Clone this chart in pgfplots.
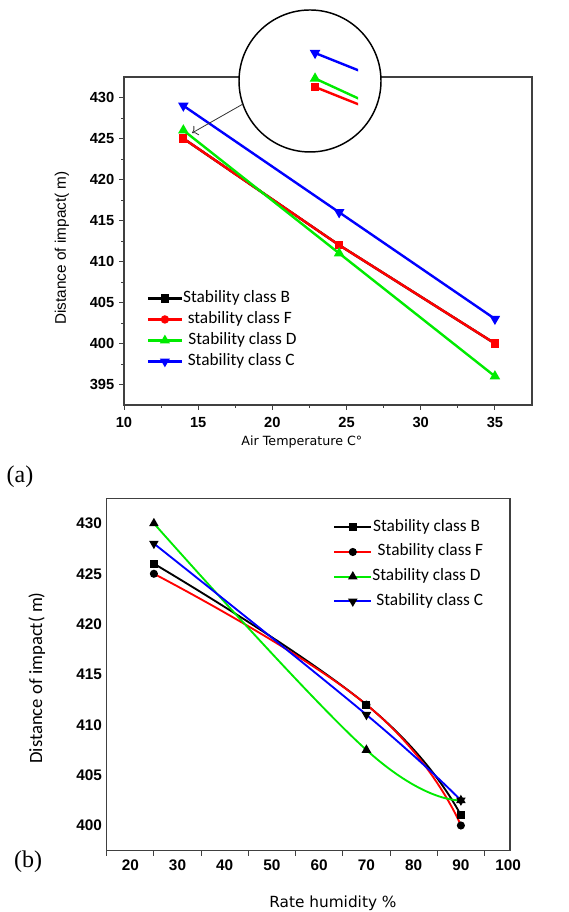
\documentclass[border=0pt]{standalone}
\usepackage{fontspec}
\setmainfont{Liberation Sans}
\newfontfamily\carlito{Carlito}
\newfontfamily\dejavu{DejaVu Sans}
\newfontfamily\tnr{Liberation Serif}
\usepackage{pgfplots}
\pgfplotsset{compat=1.18}
\usepackage{pgfplotstable}
\usetikzlibrary{arrows.meta}

\definecolor{cgreen}{RGB}{0,235,0}
\definecolor{cblue}{RGB}{0,0,255}
\definecolor{cred}{RGB}{255,0,0}

% air temperature (a)
\pgfplotstableread{
x    B   F   D   C
14   425 425 426 429
24.5 412 412 411 416
35   400 400 396 403
}\tempdata
% rate humidity (b)
\pgfplotstableread{
x  B   F   D     C
25 426 425 430   428
70 412 412 407.5 411
90 401 400 402.5 402.5
}\humdata

\pgfplotsset{
  linelegend/.style={legend image code/.code={
    \draw[mark repeat=2,mark phase=2,##1] plot coordinates {(0pt,0pt) (#1,0pt) (2*#1,0pt)};}},
}

\begin{document}
\begin{tikzpicture}
\path[use as bounding box] (0,0) rectangle (426pt,684pt);

% ---------- (a) ----------
\begin{axis}[
  scale only axis, width=306pt, height=246pt,
  at={(93pt,380.25pt)}, anchor=south west,
  xmin=10, xmax=37.5, ymin=392.5, ymax=432.5,
  xtick={10,15,...,35}, ytick={395,400,...,430},
  minor x tick num=1, minor y tick num=1,
  tick align=outside, tick pos=left,
  major tick length=3.75pt, minor tick length=2.25pt,
  axis line style={line width=0.9pt, black!75},
  tick style={black!75, line width=0.7pt},
  ticklabel style={font=\bfseries\fontsize{11}{12}\selectfont},
  xticklabel style={yshift=-2pt},
  /pgf/number format/assume math mode=true,
  xlabel={Air Temperature C°},
  xlabel style={font=\dejavu\fontsize{9.5}{11}\selectfont, at={(axis description cs:0.436,-0.113)}, anchor=center},
  ylabel={Distance of impact( m)},
  ylabel style={font=\fontsize{11.5}{13}\selectfont, at={(axis description cs:-0.152,0.479)}, anchor=center},
  linelegend=12.75pt,
  legend style={at={(axis description cs:0.055,0.35)}, anchor=north west, draw=none, fill=none,
    font=\carlito\fontsize{13}{15}\selectfont, inner sep=0pt, row sep=3.75pt,
    nodes={inner sep=0pt, text height=9pt, text depth=3pt},
    /tikz/every even column/.append style={column sep=7pt}},
  legend cell align=left,
]
\addlegendimage{black, line width=1.8pt, mark=square*, mark size=2.2pt}
\addlegendentry{Stability class B}
\addlegendimage{cred, line width=1.8pt, mark=*, mark size=2.2pt}
\addlegendentry{\hspace{3.5pt}stability class F}
\addlegendimage{cgreen, line width=1.8pt, mark=triangle*, mark size=2.6pt}
\addlegendentry{\hspace{4pt}Stability class D}
\addlegendimage{cblue, line width=1.8pt, mark=triangle*, mark size=2.6pt, mark options={rotate=180}}
\addlegendentry{\hspace{3.5pt}Stability class C}

\addplot[forget plot, black, line width=1.8pt, mark=square*, mark size=2.2pt] table[x=x,y=B]{\tempdata};
\addplot[forget plot, cred, line width=1.8pt, mark=square*, mark size=2.2pt] table[x=x,y=F]{\tempdata};
\addplot[forget plot, cgreen, line width=1.8pt, mark=triangle*, mark size=2.8pt] table[x=x,y=D]{\tempdata};
\addplot[forget plot, cblue, line width=1.8pt, mark=triangle*, mark size=2.8pt, mark options={rotate=180}] table[x=x,y=C]{\tempdata};
\end{axis}

% zoom inset
\draw[line width=1.1pt, fill=white] (232.5pt,623.25pt) circle (53.25pt);
\begin{axis}[
  scale only axis, width=34.2pt, height=47.8pt,
  at={(234.3pt,602.8pt)}, anchor=south west, hide axis,
  xmin=13.9, xmax=15.63, ymin=422.5, ymax=430,
]
\addplot[cred, line width=1.8pt, mark=square*, mark size=2.2pt] table[x=x,y=F]{\tempdata};
\addplot[cgreen, line width=1.8pt, mark=triangle*, mark size=2.8pt] table[x=x,y=D]{\tempdata};
\addplot[cblue, line width=1.8pt, mark=triangle*, mark size=2.8pt, mark options={rotate=180}] table[x=x,y=C]{\tempdata};
\end{axis}
\draw[-{To[length=4pt,width=8pt]}, black!80, line width=0.6pt] (182.25pt,606pt) -- (144pt,584.25pt);

\node[font=\tnr\fontsize{18}{20}\selectfont] at (15pt,326.25pt) {(a)};

% ---------- (b) ----------
\begin{axis}[
  scale only axis, width=302.5pt, height=264.3pt,
  at={(80pt,46pt)}, anchor=south west,
  xmin=15, xmax=100.4, ymin=397.5, ymax=432.5,
  xtick={20,30,...,100}, minor xtick={15,25,...,95},
  ytick={400,405,...,430},
  tick align=outside, tick pos=left,
  major tick length=0pt, minor tick length=3.75pt,
  axis line style={line width=0.9pt, black!75},
  tick style={black!75, line width=0.7pt},
  ticklabel style={font=\bfseries\fontsize{11.5}{13}\selectfont},
  xticklabel style={yshift=-3pt},
  /pgf/number format/assume math mode=true,
  xlabel={Rate humidity \%},
  xlabel style={font=\dejavu\fontsize{11.5}{13}\selectfont, at={(axis description cs:0.561,-0.148)}, anchor=center},
  ylabel={Distance of impact( m)},
  ylabel style={font=\carlito\fontsize{14}{16}\selectfont, at={(axis description cs:-0.173,0.49)}, anchor=center},
  linelegend=13.9pt,
  legend style={at={(axis description cs:0.561,0.941)}, anchor=north west, draw=none, fill=none,
    font=\carlito\fontsize{13}{15}\selectfont, inner sep=0pt, row sep=6.5pt,
    nodes={inner sep=0pt, text height=9pt, text depth=3pt},
    /tikz/every even column/.append style={column sep=3.75pt}},
  legend cell align=left,
]
\addlegendimage{black, line width=1.6pt, mark=square*, mark size=2.2pt, mark options={black}}
\addlegendentry{\hspace{0.5pt}Stability class B}
\addlegendimage{cred, line width=1.6pt, mark=*, mark size=2.2pt, mark options={black}}
\addlegendentry{\hspace{4pt}Stability class F}
\addlegendimage{cgreen, line width=1.6pt, mark=triangle*, mark size=2.6pt, mark options={black}}
\addlegendentry{Stability class D}
\addlegendimage{cblue, line width=1.6pt, mark=triangle*, mark size=2.6pt, mark options={black, rotate=180}}
\addlegendentry{\hspace{3pt}Stability class C}

\addplot[forget plot, black, line width=1.4pt, smooth, tension=0.8, mark=square*, mark size=2.3pt, mark options={black}] table[x=x,y=B]{\humdata};
\addplot[forget plot, cred, line width=1.4pt, smooth, tension=0.8, mark=*, mark size=2.3pt, mark options={black}] table[x=x,y=F]{\humdata};
\addplot[forget plot, cgreen, line width=1.4pt, smooth, tension=0.7, mark=triangle*, mark size=2.8pt, mark options={black}] table[x=x,y=D]{\humdata};
\addplot[forget plot, cblue, line width=1.4pt, smooth, tension=0.7, mark=triangle*, mark size=2.8pt, mark options={black, rotate=180}] table[x=x,y=C]{\humdata};
\end{axis}

\node[font=\tnr\fontsize{18}{20}\selectfont] at (21pt,37.5pt) {(b)};
\end{tikzpicture}
\end{document}
